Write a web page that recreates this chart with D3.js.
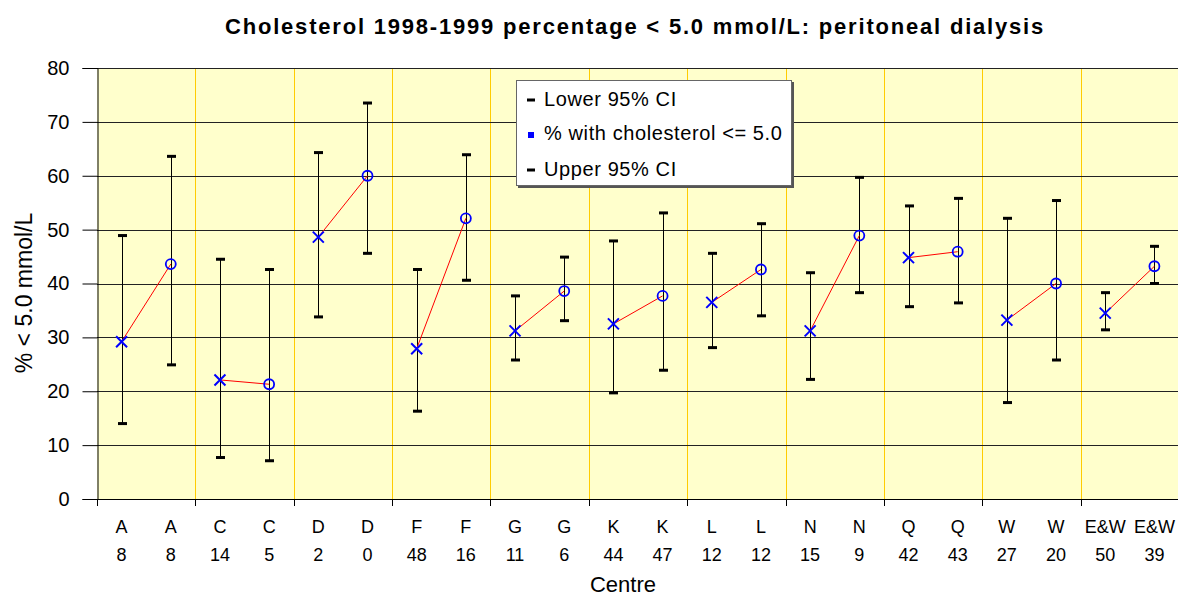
<!DOCTYPE html>
<html>
<head>
<meta charset="utf-8">
<script src="https://cdn.jsdelivr.net/npm/d3@7"></script>
<style>
  html, body { margin: 0; padding: 0; background: #fff; }
  svg { display: block; font-family: "Liberation Sans", Arial, sans-serif; }
</style>
</head>
<body>
<svg id="chart" width="1178" height="599"></svg>
<script>
// Centre labels (two lines: centre code and patient count)
const centres = ["A","A","C","C","D","D","F","F","G","G","K","K","L","L","N","N","Q","Q","W","W","E&W","E&W"];
const counts  = ["8","8","14","5","2","0","48","16","11","6","44","47","12","12","15","9","42","43","27","20","50","39"];
const years   = [1998,1999,1998,1999,1998,1999,1998,1999,1998,1999,1998,1999,1998,1999,1998,1999,1998,1999,1998,1999,1998,1999];

// % with cholesterol <= 5.0 mmol/L and its 95% confidence interval
const pct   = [29.2,43.6,22.1,21.3,48.6,60.0,27.9,52.1,31.2,38.6,32.5,37.7,36.5,42.6,31.2,48.9,44.8,45.9,33.2,40.0,34.5,43.2];
const lower = [14.0,24.9, 7.7, 7.1,33.8,45.6,16.3,40.6,25.8,33.1,19.7,23.9,28.1,34.0,22.2,38.3,35.7,36.4,17.9,25.8,31.4,40.0];
const upper = [48.9,63.6,44.5,42.6,64.3,73.5,42.6,63.9,37.7,44.9,47.9,53.1,45.6,51.1,42.0,59.7,54.4,55.8,52.1,55.4,38.3,46.9];

const yTicks = [0,10,20,30,40,50,60,70,80];
const legendItems = ["Lower 95% CI", "% with cholesterol <= 5.0", "Upper 95% CI"];

const svg = d3.select("#chart");
const plot = { left: 97, right: 1179, top: 68, bottom: 499 };

const idx = d3.range(centres.length);
const x = d3.scaleBand().domain(idx).range([plot.left, plot.right]).padding(0);
const y = d3.scaleLinear().domain([0, 80]).range([plot.bottom, plot.top]);
const cx = i => x(i) + x.bandwidth() / 2;

// Plot background
svg.append("rect")
  .attr("x", plot.left).attr("y", plot.top)
  .attr("width", plot.right - plot.left).attr("height", plot.bottom - plot.top)
  .attr("fill", "#FFFFCC");

// Vertical separators between centres
const groupStarts = idx.filter(i => i % 2 === 0 && i > 0);
svg.append("g").selectAll("line").data(groupStarts).join("line")
  .attr("x1", i => Math.round(x(i)) + 0.5).attr("x2", i => Math.round(x(i)) + 0.5)
  .attr("y1", plot.top).attr("y2", plot.bottom)
  .attr("stroke", "#FFCC00").attr("stroke-width", 1);

// Horizontal gridlines
svg.append("g").selectAll("line").data(yTicks.filter(v => v > 0)).join("line")
  .attr("x1", plot.left).attr("x2", plot.right)
  .attr("y1", v => Math.round(y(v)) + 0.5).attr("y2", v => Math.round(y(v)) + 0.5)
  .attr("stroke", "#222").attr("stroke-width", 1);

// Y axis
const yAxis = svg.append("g")
  .attr("transform", `translate(${plot.left + 0.5},0)`)
  .call(d3.axisLeft(y).tickValues(yTicks).tickSize(15).tickPadding(13).tickFormat(d3.format("d")));
yAxis.select(".domain").attr("stroke", "#000");
yAxis.selectAll(".tick line").attr("stroke", "#000");
yAxis.selectAll(".tick text").attr("font-size", 20).attr("fill", "#000")
  .attr("font-family", "Liberation Sans, Arial, sans-serif");

// X axis line and group ticks
svg.append("line")
  .attr("x1", plot.left).attr("x2", plot.right)
  .attr("y1", plot.bottom + 0.5).attr("y2", plot.bottom + 0.5)
  .attr("stroke", "#000");
svg.append("g").selectAll("line").data(idx.filter(i => i % 2 === 0)).join("line")
  .attr("x1", i => Math.round(x(i)) + 0.5).attr("x2", i => Math.round(x(i)) + 0.5)
  .attr("y1", plot.bottom).attr("y2", plot.bottom + 7)
  .attr("stroke", "#000");

// Category labels
const xl = svg.append("g").attr("font-size", 18).attr("fill", "#000").attr("text-anchor", "middle");
xl.selectAll("text.c").data(idx).join("text").attr("class", "c")
  .attr("x", i => cx(i)).attr("y", 533).text(i => centres[i]);
xl.selectAll("text.n").data(idx).join("text").attr("class", "n")
  .attr("x", i => cx(i)).attr("y", 561).text(i => counts[i]);

// Error bars
const eb = svg.append("g");
eb.selectAll("line").data(idx).join("line")
  .attr("x1", i => Math.round(cx(i)) + 0.5).attr("x2", i => Math.round(cx(i)) + 0.5)
  .attr("y1", i => y(upper[i])).attr("y2", i => y(lower[i]))
  .attr("stroke", "#000").attr("stroke-width", 1);
eb.selectAll("rect.up").data(idx).join("rect").attr("class", "up")
  .attr("x", i => Math.round(cx(i)) - 4).attr("y", i => y(upper[i]) - 1.5)
  .attr("width", 9).attr("height", 3).attr("fill", "#000");
eb.selectAll("rect.lo").data(idx).join("rect").attr("class", "lo")
  .attr("x", i => Math.round(cx(i)) - 4).attr("y", i => y(lower[i]) - 1.5)
  .attr("width", 9).attr("height", 3).attr("fill", "#000");

// Red links between the two years of each centre
const pairs = idx.filter(i => i % 2 === 0);
svg.append("g").selectAll("line").data(pairs).join("line")
  .attr("x1", i => cx(i)).attr("y1", i => y(pct[i]))
  .attr("x2", i => cx(i + 1)).attr("y2", i => y(pct[i + 1]))
  .attr("stroke", "#FF0000").attr("stroke-width", 1);

// Markers: cross for 1998, circle for 1999
const mk = svg.append("g");
mk.selectAll("path.cross").data(idx.filter(i => years[i] === 1998)).join("path").attr("class", "cross")
  .attr("d", i => {
    const px = cx(i), py = y(pct[i]), s = 5.5;
    return `M${px - s},${py - s}L${px + s},${py + s}M${px - s},${py + s}L${px + s},${py - s}`;
  })
  .attr("stroke", "#0000FF").attr("stroke-width", 2).attr("fill", "none");
mk.selectAll("circle").data(idx.filter(i => years[i] === 1999)).join("circle")
  .attr("cx", i => cx(i)).attr("cy", i => y(pct[i])).attr("r", 5)
  .attr("stroke", "#0000FF").attr("stroke-width", 1.8).attr("fill", "none");

// Legend
const lg = svg.append("g");
lg.append("rect").attr("x", 518).attr("y", 82).attr("width", 276).attr("height", 106).attr("fill", "#555");
lg.append("rect").attr("x", 516.5).attr("y", 80.5).attr("width", 275).attr("height", 105)
  .attr("fill", "#fff").attr("stroke", "#666").attr("stroke-width", 1);
const rowY = [105.5, 140, 175.5];
lg.append("rect").attr("x", 527).attr("y", rowY[0] - 7).attr("width", 8).attr("height", 3).attr("fill", "#000");
lg.append("rect").attr("x", 528).attr("y", rowY[1] - 8).attr("width", 6).attr("height", 6).attr("fill", "#0000FF");
lg.append("rect").attr("x", 527).attr("y", rowY[2] - 7).attr("width", 8).attr("height", 3).attr("fill", "#000");
lg.selectAll("text").data(legendItems).join("text")
  .attr("x", 544).attr("y", (d, i) => rowY[i])
  .attr("font-size", 20).attr("letter-spacing", 0.6).attr("fill", "#000").text(d => d);

// Titles
svg.append("text").attr("x", 635).attr("y", 34).attr("text-anchor", "middle")
  .attr("font-size", 22).attr("font-weight", "bold").attr("letter-spacing", 1.8)
  .text("Cholesterol 1998-1999 percentage < 5.0 mmol/L: peritoneal dialysis");
svg.append("text").attr("x", 623).attr("y", 592).attr("text-anchor", "middle")
  .attr("font-size", 22).text("Centre");
svg.append("text").attr("transform", "translate(32,293) rotate(-90)").attr("text-anchor", "middle")
  .attr("font-size", 23).text("% < 5.0 mmol/L");
</script>
</body>
</html>
